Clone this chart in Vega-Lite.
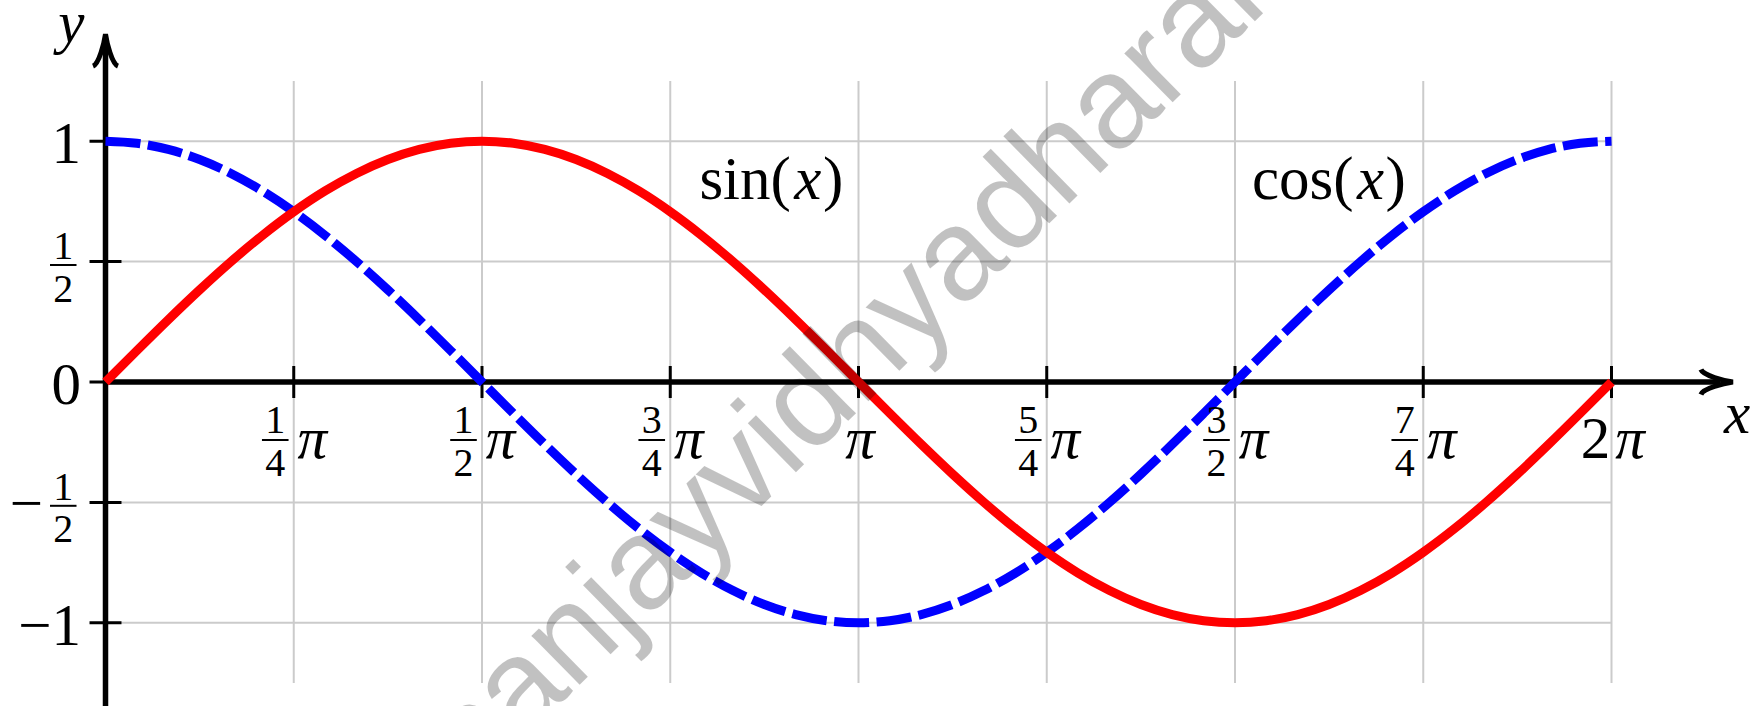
{
  "$schema": "https://vega.github.io/schema/vega-lite/v6.json",
  "width": 1506,
  "height": 602,
  "autosize": {"type": "none"},
  "padding": {"left": 105.5, "top": 81, "right": 142.5, "bottom": 23},
  "background": "#ffffff",
  "config": {
    "view": {"stroke": null},
    "axis": {"disable": true},
    "text": {"font": "Liberation Serif", "color": "#000000"}
  },
  "data": {"values": [{}]},
  "datasets": {
    "curve": [
      {"deg": 0, "sin": 0, "cos": 1},
      {"deg": 7.5, "sin": 0.1305, "cos": 0.9914},
      {"deg": 15, "sin": 0.2588, "cos": 0.9659},
      {"deg": 22.5, "sin": 0.3827, "cos": 0.9239},
      {"deg": 30, "sin": 0.5, "cos": 0.866},
      {"deg": 37.5, "sin": 0.6088, "cos": 0.7934},
      {"deg": 45, "sin": 0.7071, "cos": 0.7071},
      {"deg": 52.5, "sin": 0.7934, "cos": 0.6088},
      {"deg": 60, "sin": 0.866, "cos": 0.5},
      {"deg": 67.5, "sin": 0.9239, "cos": 0.3827},
      {"deg": 75, "sin": 0.9659, "cos": 0.2588},
      {"deg": 82.5, "sin": 0.9914, "cos": 0.1305},
      {"deg": 90, "sin": 1, "cos": 0},
      {"deg": 97.5, "sin": 0.9914, "cos": -0.1305},
      {"deg": 105, "sin": 0.9659, "cos": -0.2588},
      {"deg": 112.5, "sin": 0.9239, "cos": -0.3827},
      {"deg": 120, "sin": 0.866, "cos": -0.5},
      {"deg": 127.5, "sin": 0.7934, "cos": -0.6088},
      {"deg": 135, "sin": 0.7071, "cos": -0.7071},
      {"deg": 142.5, "sin": 0.6088, "cos": -0.7934},
      {"deg": 150, "sin": 0.5, "cos": -0.866},
      {"deg": 157.5, "sin": 0.3827, "cos": -0.9239},
      {"deg": 165, "sin": 0.2588, "cos": -0.9659},
      {"deg": 172.5, "sin": 0.1305, "cos": -0.9914},
      {"deg": 180, "sin": 0, "cos": -1},
      {"deg": 187.5, "sin": -0.1305, "cos": -0.9914},
      {"deg": 195, "sin": -0.2588, "cos": -0.9659},
      {"deg": 202.5, "sin": -0.3827, "cos": -0.9239},
      {"deg": 210, "sin": -0.5, "cos": -0.866},
      {"deg": 217.5, "sin": -0.6088, "cos": -0.7934},
      {"deg": 225, "sin": -0.7071, "cos": -0.7071},
      {"deg": 232.5, "sin": -0.7934, "cos": -0.6088},
      {"deg": 240, "sin": -0.866, "cos": -0.5},
      {"deg": 247.5, "sin": -0.9239, "cos": -0.3827},
      {"deg": 255, "sin": -0.9659, "cos": -0.2588},
      {"deg": 262.5, "sin": -0.9914, "cos": -0.1305},
      {"deg": 270, "sin": -1, "cos": 0},
      {"deg": 277.5, "sin": -0.9914, "cos": 0.1305},
      {"deg": 285, "sin": -0.9659, "cos": 0.2588},
      {"deg": 292.5, "sin": -0.9239, "cos": 0.3827},
      {"deg": 300, "sin": -0.866, "cos": 0.5},
      {"deg": 307.5, "sin": -0.7934, "cos": 0.6088},
      {"deg": 315, "sin": -0.7071, "cos": 0.7071},
      {"deg": 322.5, "sin": -0.6088, "cos": 0.7934},
      {"deg": 330, "sin": -0.5, "cos": 0.866},
      {"deg": 337.5, "sin": -0.3827, "cos": 0.9239},
      {"deg": 345, "sin": -0.2588, "cos": 0.9659},
      {"deg": 352.5, "sin": -0.1305, "cos": 0.9914},
      {"deg": 360, "sin": 0, "cos": 1}
    ],
    "gx": [{"g": 0}, {"g": 45}, {"g": 90}, {"g": 135}, {"g": 180}, {"g": 225}, {"g": 270}, {"g": 315}, {"g": 360}],
    "gy": [{"g": -1}, {"g": -0.5}, {"g": 0}, {"g": 0.5}, {"g": 1}],
    "xlabels": [
      {"deg": 45, "num": "1", "den": "4", "coef": ""},
      {"deg": 90, "num": "1", "den": "2", "coef": ""},
      {"deg": 135, "num": "3", "den": "4", "coef": ""},
      {"deg": 180, "num": "", "den": "", "coef": ""},
      {"deg": 225, "num": "5", "den": "4", "coef": ""},
      {"deg": 270, "num": "3", "den": "2", "coef": ""},
      {"deg": 315, "num": "7", "den": "4", "coef": ""},
      {"deg": 360, "num": "", "den": "", "coef": "2"}
    ],
    "ylabels": [
      {"y": 1, "main": "1", "num": "", "den": "", "sign": ""},
      {"y": 0.5, "main": "", "num": "1", "den": "2", "sign": ""},
      {"y": 0, "main": "0", "num": "", "den": "", "sign": ""},
      {"y": -0.5, "main": "", "num": "1", "den": "2", "sign": "−"},
      {"y": -1, "main": "−1", "num": "", "den": "", "sign": ""}
    ]
  },
  "layer": [
    {
      "data": {"name": "gx"},
      "mark": {"type": "rule", "color": "#cbcbcb", "strokeWidth": 2},
      "encoding": {
        "x": {"field": "g", "type": "quantitative", "scale": {"domain": [0, 360], "nice": false, "zero": false}},
        "y": {"datum": -1.25, "type": "quantitative", "scale": {"domain": [-1.25, 1.25], "nice": false, "zero": false}},
        "y2": {"datum": 1.25}
      }
    },
    {
      "data": {"name": "gy"},
      "mark": {"type": "rule", "color": "#cbcbcb", "strokeWidth": 2},
      "encoding": {
        "x": {"datum": 0, "type": "quantitative"},
        "x2": {"datum": 360},
        "y": {"field": "g", "type": "quantitative"}
      }
    },
    {
      "data": {"name": "gx"},
      "transform": [{"filter": "datum.g > 0"}],
      "mark": {"type": "rule", "color": "#000000", "strokeWidth": 3},
      "encoding": {
        "x": {"field": "g", "type": "quantitative"},
        "y": {"datum": -0.0664, "type": "quantitative"},
        "y2": {"datum": 0.0664}
      }
    },
    {
      "data": {"name": "gy"},
      "mark": {"type": "rule", "color": "#000000", "strokeWidth": 3},
      "encoding": {
        "x": {"datum": -3.82, "type": "quantitative"},
        "x2": {"datum": 3.82},
        "y": {"field": "g", "type": "quantitative"}
      }
    },
    {
      "mark": {"type": "rule", "color": "#000000", "strokeWidth": 5.5},
      "encoding": {
        "x": {"datum": 0, "type": "quantitative"},
        "x2": {"datum": 386},
        "y": {"datum": 0, "type": "quantitative"}
      }
    },
    {
      "mark": {"type": "rule", "color": "#000000", "strokeWidth": 5.5},
      "encoding": {
        "x": {"datum": 0, "type": "quantitative"},
        "y": {"datum": -1.45, "type": "quantitative"},
        "y2": {"datum": 1.4}
      }
    },
    {
      "mark": {"type": "point", "shape": "M -1 -0.78 C -0.85 -0.4 0.45 -0.08 1 0 C 0.45 0.08 -0.85 0.4 -1 0.78", "size": 1024, "filled": false, "stroke": "#000000", "strokeWidth": 5, "strokeJoin": "miter", "opacity": 1, "angle": 0},
      "encoding": {
        "x": {"datum": 385.2, "type": "quantitative"},
        "y": {"datum": 0, "type": "quantitative"}
      }
    },
    {
      "mark": {"type": "point", "shape": "M -1 -0.78 C -0.85 -0.4 0.45 -0.08 1 0 C 0.45 0.08 -0.85 0.4 -1 0.78", "size": 1024, "filled": false, "stroke": "#000000", "strokeWidth": 5, "strokeJoin": "miter", "opacity": 1, "angle": 270},
      "encoding": {
        "x": {"datum": 0, "type": "quantitative"},
        "y": {"datum": 1.378, "type": "quantitative"}
      }
    },
    {
      "data": {"name": "curve"},
      "mark": {"type": "line", "color": "#0000ff", "strokeWidth": 9, "strokeDash": [35, 7.5], "strokeCap": "butt", "interpolate": "monotone"},
      "encoding": {
        "x": {"field": "deg", "type": "quantitative"},
        "y": {"field": "cos", "type": "quantitative"}
      }
    },
    {
      "data": {"name": "curve"},
      "mark": {"type": "line", "color": "#ff0000", "strokeWidth": 9, "strokeCap": "butt", "interpolate": "monotone"},
      "encoding": {
        "x": {"field": "deg", "type": "quantitative"},
        "y": {"field": "sin", "type": "quantitative"}
      }
    },
    {
      "data": {"name": "xlabels"},
      "transform": [{"filter": "datum.num != ''"}],
      "mark": {"type": "text", "fontSize": 40, "align": "center", "baseline": "alphabetic", "dx": -18.5, "dy": 51.3, "color": "#000000"},
      "encoding": {
        "x": {"field": "deg", "type": "quantitative"},
        "y": {"datum": 0, "type": "quantitative"},
        "text": {"field": "num"}
      }
    },
    {
      "data": {"name": "xlabels"},
      "transform": [{"filter": "datum.den != ''"}],
      "mark": {"type": "text", "fontSize": 40, "align": "center", "baseline": "alphabetic", "dx": -18.5, "dy": 94, "color": "#000000"},
      "encoding": {
        "x": {"field": "deg", "type": "quantitative"},
        "y": {"datum": 0, "type": "quantitative"},
        "text": {"field": "den"}
      }
    },
    {
      "data": {"name": "xlabels"},
      "transform": [{"filter": "datum.num != ''"}],
      "mark": {"type": "rule", "color": "#000000", "strokeWidth": 2, "xOffset": -31.8, "x2Offset": -5.2, "yOffset": 58},
      "encoding": {
        "x": {"field": "deg", "type": "quantitative"},
        "x2": {"field": "deg"},
        "y": {"datum": 0, "type": "quantitative"}
      }
    },
    {
      "data": {"name": "xlabels"},
      "transform": [{"filter": "datum.deg != 180"}],
      "mark": {"type": "text", "text": "π", "fontSize": 59, "fontStyle": "italic", "align": "center", "baseline": "alphabetic", "dx": 18.5, "dy": 76.3, "color": "#000000"},
      "encoding": {
        "x": {"field": "deg", "type": "quantitative"},
        "y": {"datum": 0, "type": "quantitative"}
      }
    },
    {
      "data": {"name": "xlabels"},
      "transform": [{"filter": "datum.deg == 180"}],
      "mark": {"type": "text", "text": "π", "fontSize": 59, "fontStyle": "italic", "align": "center", "baseline": "alphabetic", "dx": 1.5, "dy": 76.3, "color": "#000000"},
      "encoding": {
        "x": {"field": "deg", "type": "quantitative"},
        "y": {"datum": 0, "type": "quantitative"}
      }
    },
    {
      "data": {"name": "xlabels"},
      "transform": [{"filter": "datum.coef != ''"}],
      "mark": {"type": "text", "fontSize": 59, "align": "center", "baseline": "alphabetic", "dx": -16, "dy": 76.3, "color": "#000000"},
      "encoding": {
        "x": {"field": "deg", "type": "quantitative"},
        "y": {"datum": 0, "type": "quantitative"},
        "text": {"field": "coef"}
      }
    },
    {
      "data": {"name": "ylabels"},
      "transform": [{"filter": "datum.main != ''"}],
      "mark": {"type": "text", "fontSize": 59, "align": "right", "baseline": "alphabetic", "dx": -24.5, "dy": 22, "color": "#000000"},
      "encoding": {
        "x": {"datum": 0, "type": "quantitative"},
        "y": {"field": "y", "type": "quantitative"},
        "text": {"field": "main"}
      }
    },
    {
      "data": {"name": "ylabels"},
      "transform": [{"filter": "datum.num != ''"}],
      "mark": {"type": "text", "fontSize": 40, "align": "center", "baseline": "alphabetic", "dx": -42.2, "dy": -2.6, "color": "#000000"},
      "encoding": {
        "x": {"datum": 0, "type": "quantitative"},
        "y": {"field": "y", "type": "quantitative"},
        "text": {"field": "num"}
      }
    },
    {
      "data": {"name": "ylabels"},
      "transform": [{"filter": "datum.den != ''"}],
      "mark": {"type": "text", "fontSize": 40, "align": "center", "baseline": "alphabetic", "dx": -42.2, "dy": 40, "color": "#000000"},
      "encoding": {
        "x": {"datum": 0, "type": "quantitative"},
        "y": {"field": "y", "type": "quantitative"},
        "text": {"field": "den"}
      }
    },
    {
      "data": {"name": "ylabels"},
      "transform": [{"filter": "datum.num != ''"}],
      "mark": {"type": "rule", "color": "#000000", "strokeWidth": 2, "yOffset": 3.4},
      "encoding": {
        "x": {"datum": -13.27, "type": "quantitative"},
        "x2": {"datum": -6.93},
        "y": {"field": "y", "type": "quantitative"}
      }
    },
    {
      "data": {"name": "ylabels"},
      "transform": [{"filter": "datum.sign != ''"}],
      "mark": {"type": "text", "fontSize": 59, "align": "center", "baseline": "alphabetic", "dx": -79.2, "dy": 20.7, "color": "#000000"},
      "encoding": {
        "x": {"datum": 0, "type": "quantitative"},
        "y": {"field": "y", "type": "quantitative"},
        "text": {"field": "sign"}
      }
    },
    {
      "mark": {"type": "text", "text": "y", "fontSize": 59, "fontStyle": "italic", "align": "center", "baseline": "alphabetic", "color": "#000000"},
      "encoding": {
        "x": {"datum": -8.15, "type": "quantitative"},
        "y": {"datum": 1.413, "type": "quantitative"}
      }
    },
    {
      "mark": {"type": "text", "text": "x", "fontSize": 59, "fontStyle": "italic", "align": "center", "baseline": "alphabetic", "color": "#000000"},
      "encoding": {
        "x": {"datum": 390, "type": "quantitative"},
        "y": {"datum": -0.212, "type": "quantitative"}
      }
    },
    {
      "mark": {"type": "text", "text": "sin(", "fontSize": 61, "align": "right", "baseline": "alphabetic", "dx": -17, "color": "#000000"},
      "encoding": {
        "x": {"datum": 167.9, "type": "quantitative"},
        "y": {"datum": 0.758, "type": "quantitative"}
      }
    },
    {
      "mark": {"type": "text", "text": "x", "fontSize": 61, "fontStyle": "italic", "align": "center", "baseline": "alphabetic", "color": "#000000"},
      "encoding": {
        "x": {"datum": 167.9, "type": "quantitative"},
        "y": {"datum": 0.758, "type": "quantitative"}
      }
    },
    {
      "mark": {"type": "text", "text": ")", "fontSize": 61, "align": "left", "baseline": "alphabetic", "dx": 15, "color": "#000000"},
      "encoding": {
        "x": {"datum": 167.9, "type": "quantitative"},
        "y": {"datum": 0.758, "type": "quantitative"}
      }
    },
    {
      "mark": {"type": "text", "text": "cos(", "fontSize": 61, "align": "right", "baseline": "alphabetic", "dx": -17, "color": "#000000"},
      "encoding": {
        "x": {"datum": 302.4, "type": "quantitative"},
        "y": {"datum": 0.758, "type": "quantitative"}
      }
    },
    {
      "mark": {"type": "text", "text": "x", "fontSize": 61, "fontStyle": "italic", "align": "center", "baseline": "alphabetic", "color": "#000000"},
      "encoding": {
        "x": {"datum": 302.4, "type": "quantitative"},
        "y": {"datum": 0.758, "type": "quantitative"}
      }
    },
    {
      "mark": {"type": "text", "text": ")", "fontSize": 61, "align": "left", "baseline": "alphabetic", "dx": 15, "color": "#000000"},
      "encoding": {
        "x": {"datum": 302.4, "type": "quantitative"},
        "y": {"datum": 0.758, "type": "quantitative"}
      }
    },
    {
      "mark": {"type": "text", "text": "sanjayvidhyadharan", "font": "Liberation Sans", "fontSize": 130, "angle": -44.5, "align": "center", "baseline": "alphabetic", "color": "#000000", "opacity": 0.24},
      "encoding": {
        "x": {"datum": 187, "type": "quantitative"},
        "y": {"datum": 0, "type": "quantitative"}
      }
    }
  ]
}
